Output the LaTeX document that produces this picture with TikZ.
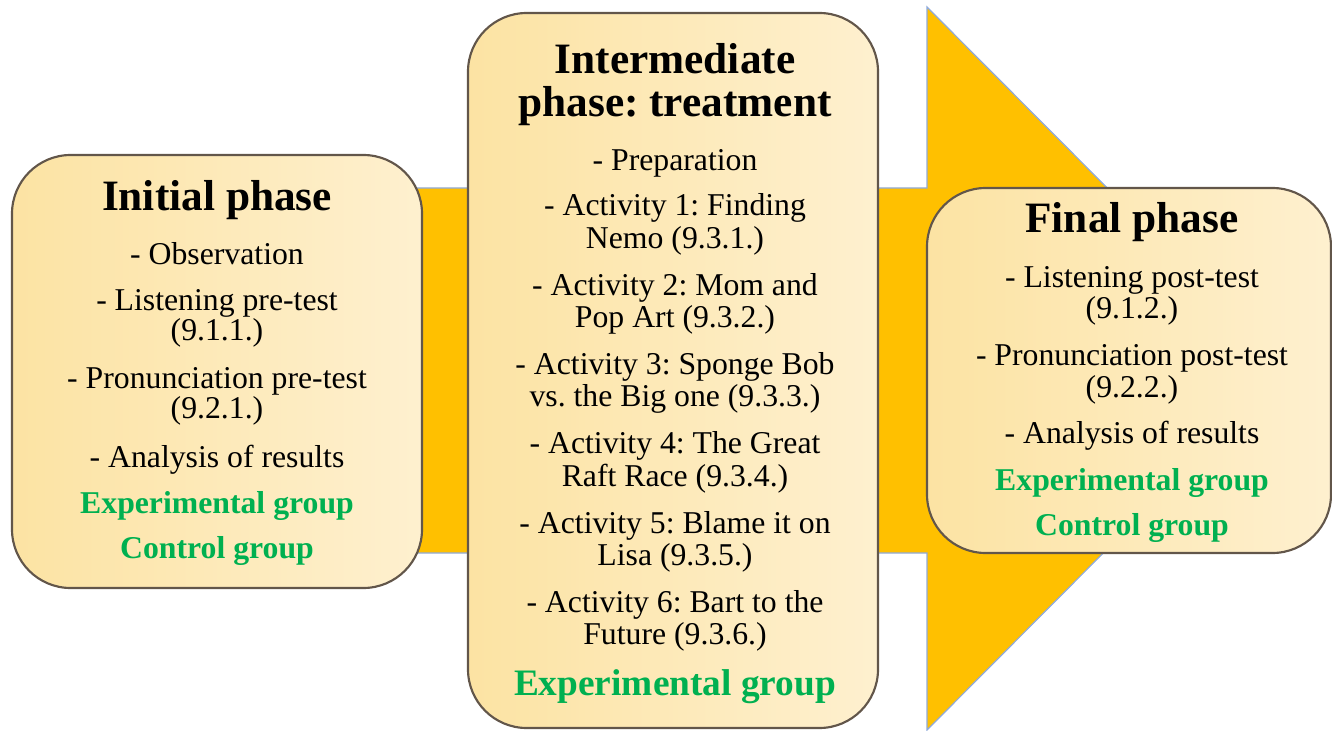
\documentclass[tikz,border=0pt]{standalone}
\usepackage{fontspec}
\setmainfont{Liberation Serif}
\frenchspacing
\definecolor{arrowfill}{HTML}{FFC000}
\definecolor{arrowline}{HTML}{8FAADC}
\definecolor{boxline}{HTML}{62564A}
\definecolor{boxL}{HTML}{FCE3A3}
\definecolor{boxR}{HTML}{FEF0CF}
\definecolor{grpgreen}{HTML}{00B050}
\tikzset{
  bigarrow/.style={fill=arrowfill, draw=arrowline, line width=0.9pt, line join=miter},
  phasebox/.style={draw=boxline, line width=1.6pt, rounded corners=44pt,
    left color=boxL, right color=boxR, inner sep=0pt},
  body/.style={anchor=base, inner sep=0pt, font=\fontsize{23.8}{26}\selectfont},
  ttl/.style={anchor=base, inner sep=0pt, font=\fontsize{32.5}{34}\selectfont\bfseries},
  grp/.style={anchor=base, inner sep=0pt, text=grpgreen, font=\fontsize{23.8}{26}\selectfont\bfseries},
  biggrp/.style={anchor=base, inner sep=0pt, text=grpgreen, font=\fontsize{28}{30}\selectfont\bfseries},
}
\begin{document}
\begin{tikzpicture}[x=0.75pt,y=-0.75pt]
\useasboundingbox (0,0) rectangle (1332,731);
% big arrow
\draw[bigarrow] (200,188) -- (927,188) -- (927,7) -- (1287,368.5) -- (927,730) -- (927,553) -- (200,553) -- cycle;
% boxes
\node[phasebox, minimum width=307.5pt, minimum height=324.75pt] (initbox) at (217,371.5) {};
\node[phasebox, minimum width=307.5pt, minimum height=536.25pt] (midbox) at (673,370.5) {};
\node[phasebox, minimum width=303pt, minimum height=273.75pt] (finbox) at (1129,370.5) {};
% initial phase
\node[ttl]  (i0) at (217,211) {Initial phase};
\node[body] (i1) at (217,264) {- Observation};
\node[body] (i2) at (217,310) {- Listening pre-test};
\node[body] (i3) at (217,340) {(9.1.1.)};
\node[body] (i4) at (217,388) {- Pronunciation pre-test};
\node[body] (i5) at (217,418) {(9.2.1.)};
\node[body] (i6) at (217,467) {- Analysis of results};
\node[grp]  (i7) at (217,513) {Experimental group};
\node[grp]  (i8) at (217,558) {Control group};
% intermediate phase
\node[ttl]  (m0) at (675,74) {Intermediate};
\node[ttl]  (m1) at (675,117) {phase: treatment};
\node[body] (m2) at (675,171) {- Preparation};
\node[body] (m3) at (675,216) {- Activity 1: Finding};
\node[body] (m4) at (675,248) {Nemo (9.3.1.)};
\node[body] (m5) at (675,295) {- Activity 2: Mom and};
\node[body] (m6) at (675,327) {Pop Art (9.3.2.)};
\node[body] (m7) at (675,374) {- Activity 3: Sponge Bob};
\node[body] (m8) at (675,406) {vs. the Big one (9.3.3.)};
\node[body] (m9) at (675,453) {- Activity 4: The Great};
\node[body] (m10) at (675,486) {Raft Race (9.3.4.)};
\node[body] (m11) at (675,533) {- Activity 5: Blame it on};
\node[body] (m12) at (675,565) {Lisa (9.3.5.)};
\node[body] (m13) at (675,612) {- Activity 6: Bart to the};
\node[body] (m14) at (675,644) {Future (9.3.6.)};
\node[biggrp] (m15) at (675,695) {Experimental group};
% final phase
\node[ttl]  (f0) at (1132,233) {Final phase};
\node[body] (f1) at (1132,287) {- Listening post-test};
\node[body] (f2) at (1132,318) {(9.1.2.)};
\node[body] (f3) at (1132,365) {- Pronunciation post-test};
\node[body] (f4) at (1132,397) {(9.2.2.)};
\node[body] (f5) at (1132,443) {- Analysis of results};
\node[grp]  (f6) at (1132,490) {Experimental group};
\node[grp]  (f7) at (1132,535) {Control group};
\end{tikzpicture}
\end{document}
